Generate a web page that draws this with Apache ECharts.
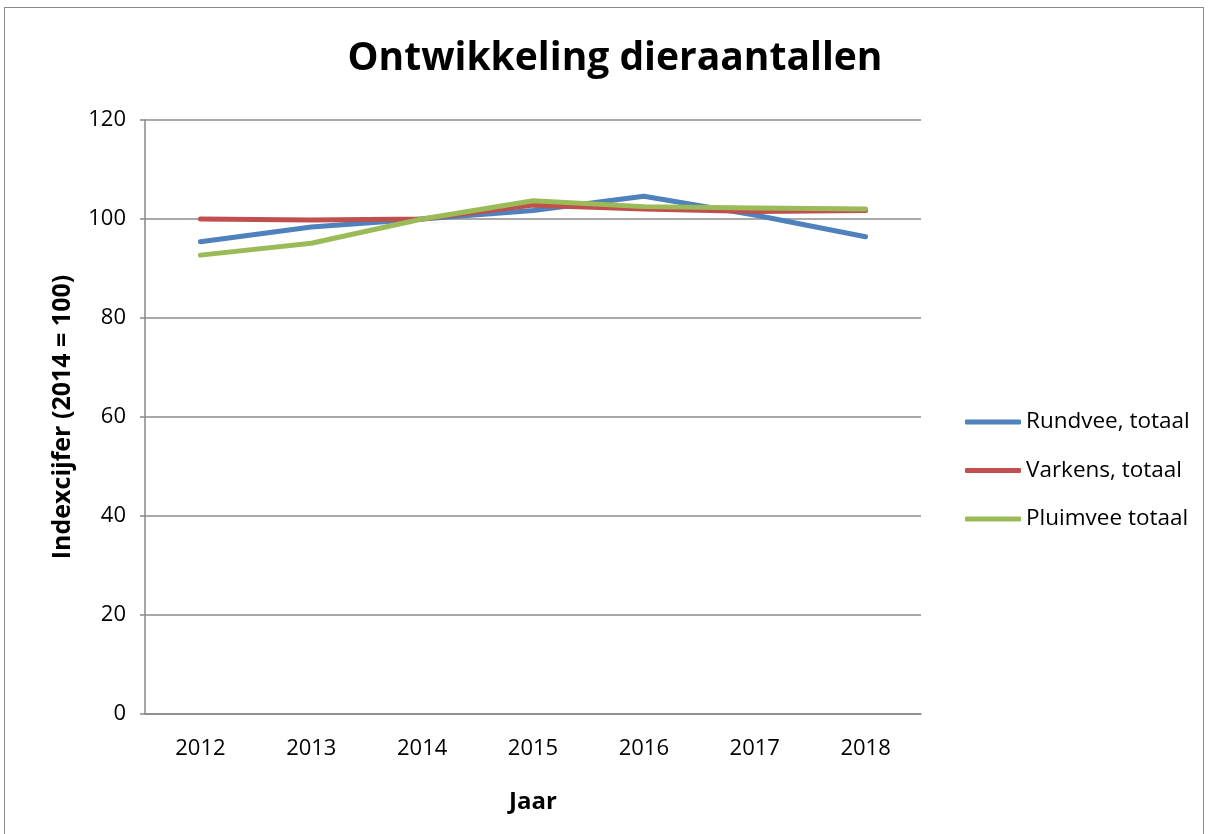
<!DOCTYPE html>
<html><head><meta charset="utf-8">
<script src="https://cdn.jsdelivr.net/npm/echarts@6/dist/echarts.min.js"></script>
<style>html,body{margin:0;padding:0;background:#fff;}#c{width:1213px;height:834px;}
#frame{position:absolute;left:4px;top:7px;width:1198px;height:840px;border:1.5px solid #8a8a8a;pointer-events:none;}</style>
</head><body><div id="c"></div><div id="frame"></div>
<script>
var years = ['2012','2013','2014','2015','2016','2017','2018'];
var rundvee = [95.4, 98.4, 100, 101.7, 104.6, 100.8, 96.4];
var varkens = [100, 99.8, 100, 102.8, 102.0, 101.5, 101.7];
var pluimvee = [92.7, 95.1, 100, 103.7, 102.5, 102.2, 102.0];
var yTicks = {min: 0, max: 120, interval: 20};
var font = "'Open Sans', 'Liberation Sans', sans-serif";
var chart = echarts.init(document.getElementById('c'));
function s(name, data, color){
  return {name:name, type:'line', data:data, symbol:'none', smooth:false,
    lineStyle:{width:5, color:color, cap:'round', join:'round'}, itemStyle:{color:color}};
}
chart.setOption({
  animation:false,
  title:{text:'Ontwikkeling dieraantallen', left:610, top:34, textAlign:'center',
    textStyle:{fontFamily:font, fontSize:39, fontWeight:'bold', color:'#000'}},
  grid:{left:145, top:120, width:776, height:594, containLabel:false},
  legend:{orient:'vertical', left:960, top:405, itemWidth:56, itemHeight:5, itemGap:24.5,
    icon:'roundRect',
    textStyle:{fontFamily:font, fontSize:22.5, lineHeight:24, color:'#000'},
    data:['Rundvee, totaal','Varkens, totaal','Pluimvee totaal']},
  xAxis:{type:'category', data:years, boundaryGap:true,
    name:'Jaar', nameLocation:'middle', nameGap:76,
    nameTextStyle:{fontFamily:font, fontSize:24, fontWeight:'bold', color:'#000'},
    axisLine:{lineStyle:{color:'#888', width:1.5}},
    axisTick:{show:false},
    axisLabel:{fontFamily:font, fontSize:22, color:'#000', margin:24}},
  yAxis:{type:'value', min:yTicks.min, max:yTicks.max, interval:yTicks.interval,
    name:'Indexcijfer (2014 = 100)', nameLocation:'middle', nameGap:70, nameRotate:90,
    nameTextStyle:{fontFamily:font, fontSize:25, fontWeight:'bold', color:'#000'},
    axisLine:{show:true, lineStyle:{color:'#888', width:1.5}},
    axisTick:{show:true, length:5, lineStyle:{color:'#888', width:1.5}},
    axisLabel:{fontFamily:font, fontSize:22, color:'#000', margin:19},
    splitLine:{show:true, lineStyle:{color:'#8c8c8c', width:1.5}}},
  series:[s('Rundvee, totaal', rundvee, '#4F81BD'), s('Varkens, totaal', varkens, '#C0504D'), s('Pluimvee totaal', pluimvee, '#9BBB59')]
});
</script></body></html>
